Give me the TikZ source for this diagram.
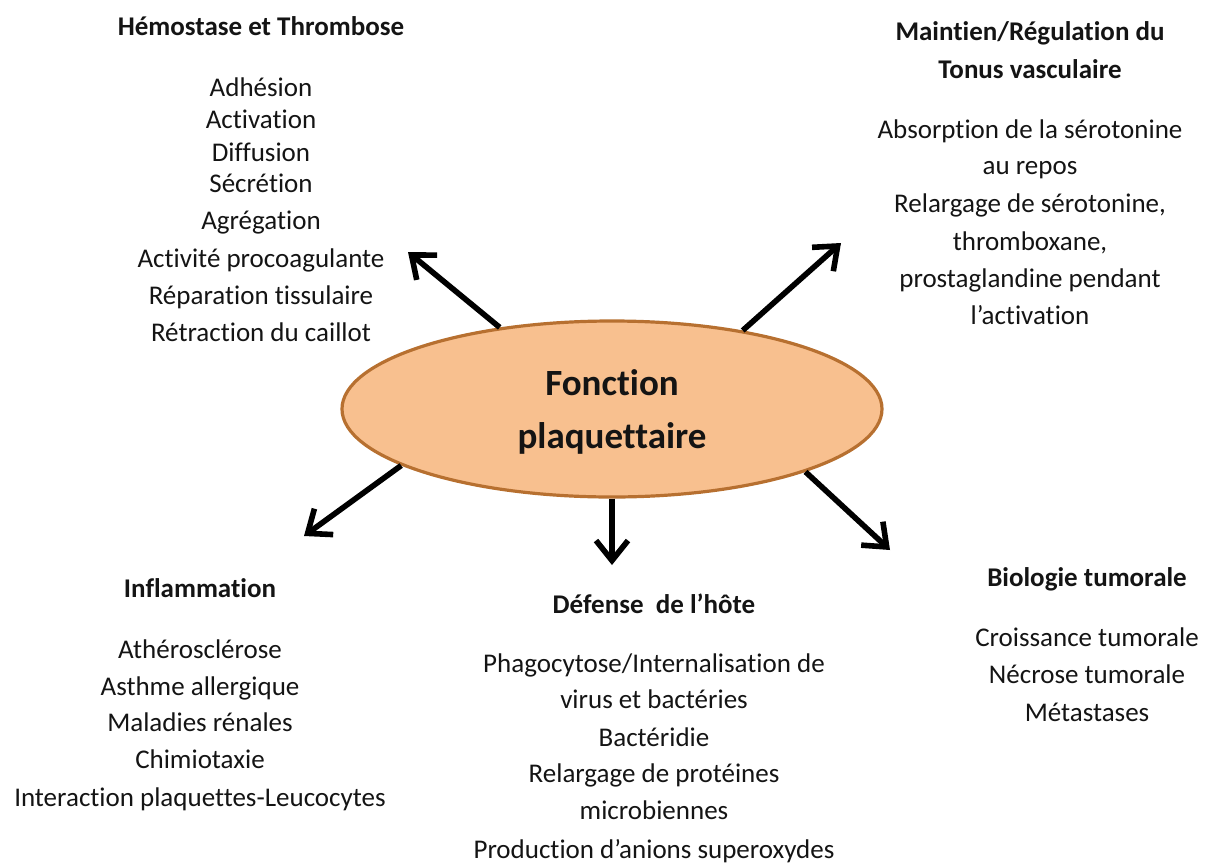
\documentclass[tikz,border=0pt]{standalone}
\usepackage{fontspec}
\setmainfont{Carlito}[RawFeature={-liga;-clig;-calt;-dlig;-rlig}]
\usetikzlibrary{shapes.geometric,arrows.meta}
\definecolor{efill}{RGB}{248,192,143}
\definecolor{edraw}{RGB}{183,112,48}
\definecolor{txt}{RGB}{20,20,20}
\begin{document}
\begin{tikzpicture}[x=0.5pt,y=-0.5pt,
  lbl/.style={anchor=base,font=\fontsize{13.5}{16}\selectfont,text=txt,inner sep=0pt},
  hdr/.style={lbl,font=\fontsize{13.5}{16}\selectfont\bfseries},
  ctr/.style={anchor=base,font=\fontsize{18.5}{22}\selectfont\bfseries,text=txt,inner sep=0pt},
  arr/.style={line width=2.8pt,-{Straight Barb[length=10pt,width=16pt]}}]
\useasboundingbox (0,0) rectangle (1212,863);
% central ellipse
\node[ellipse,draw=edraw,fill=efill,line width=1.6pt,minimum width=270pt,minimum height=88pt,inner sep=0pt] (c) at (612,409) {};
\node[ctr] (c1) at (612,395) {Fonction};
\node[ctr] (c2) at (612,448) {plaquettaire};
% top-left
\node[hdr] (hA) at (261,35) {Hémostase et Thrombose};
\foreach \t/\y [count=\i] in {Adhésion/96, Activation/128, Diffusion/161, Sécrétion/192, Agrégation/229, Activité procoagulante/267, Réparation tissulaire/304, Rétraction du caillot/341}
  \node[lbl] (a\i) at (261,\y) {\t};
% top-right
\node[hdr] (hB1) at (1030,40) {Maintien/Régulation du};
\node[hdr] (hB2) at (1030,78) {Tonus vasculaire};
\foreach \t/\y [count=\i] in {Absorption de la sérotonine/138, au repos/174, {Relargage de sérotonine,}/212, {thromboxane,}/250, prostaglandine pendant/287, l’activation/324}
  \node[lbl] (b\i) at (1030,\y) {\t};
% bottom-left
\node[hdr] (hC) at (200,597) {Inflammation};
\foreach \t/\y [count=\i] in {Athérosclérose/658, Asthme allergique/695, Maladies rénales/731, Chimiotaxie/768, Interaction plaquettes-Leucocytes/806}
  \node[lbl] (d\i) at (200,\y) {\t};
% bottom-middle
\node[hdr] (hD) at (654,613) {Défense\ \ de l’hôte};
\foreach \t/\y [count=\i] in {{Phagocytose/Internalisation de}/672, virus et bactéries/708, Bactéridie/746, Relargage de protéines/782, microbiennes/819, Production d’anions superoxydes/858}
  \node[lbl] (e\i) at (654,\y) {\t};
% bottom-right
\node[hdr] (hE) at (1087,586) {Biologie tumorale};
\foreach \t/\y [count=\i] in {Croissance tumorale/646, Nécrose tumorale/683, Métastases/721}
  \node[lbl] (f\i) at (1087,\y) {\t};
% arrow tips
\coordinate (t1) at (408,252);
\coordinate (t2) at (841,243);
\coordinate (t3) at (304,536);
\coordinate (t4) at (612,565);
\coordinate (t5) at (890,550);
\draw[arr] (c.144.5) -- (t1);
\draw[arr] (c.31) -- (t2);
\draw[arr] (c.195) -- (t3);
\draw[arr] (c.south) -- (t4);
\draw[arr] (c.-18.5) -- (t5);
\end{tikzpicture}
\end{document}
